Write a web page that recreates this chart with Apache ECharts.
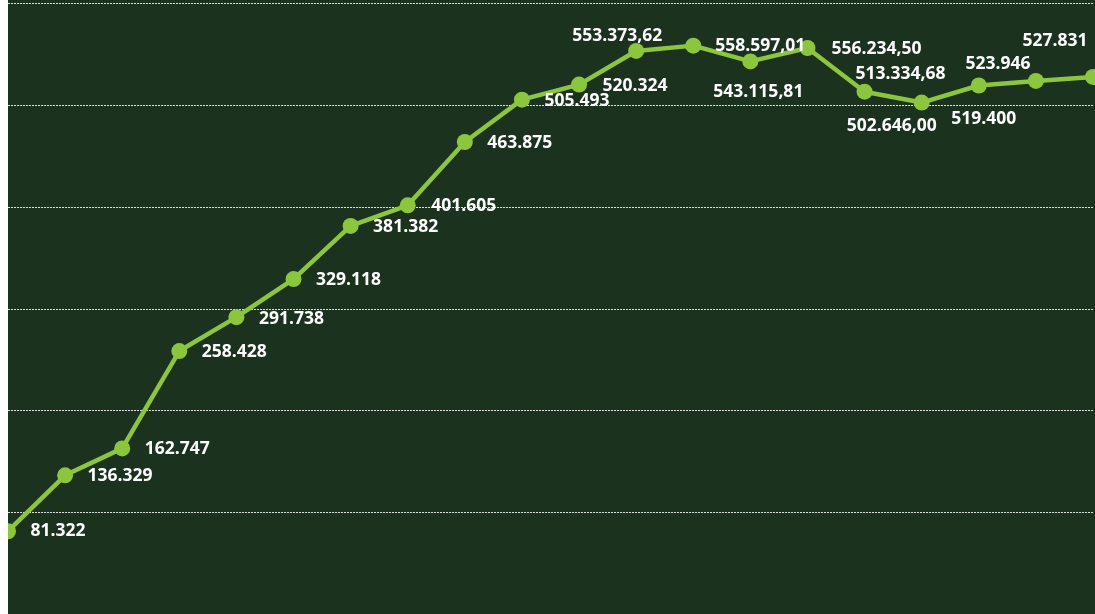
<!DOCTYPE html>
<html>
<head>
<meta charset="utf-8">
<script src="https://cdn.jsdelivr.net/npm/echarts@6/dist/echarts.min.js"></script>
<style>
html,body{margin:0;padding:0;background:#ffffff;width:1095px;height:614px;overflow:hidden;}
#chart{position:absolute;left:8px;top:0;width:1087px;height:614px;}
</style>
</head>
<body>
<div id="chart"></div>
<script>
const categories = ['1','2','3','4','5','6','7','8','9','10','11','12','13','14','15','16','17','18','19','20'];
const values = [81322, 136329, 162747, 258428, 291738, 329118, 381382, 401605, 463875, 505493, 520324,
  553373.62, 558597.01, 543115.81, 556234.50, 513334.68, 502646.00, 519400, 523946, 527831];
const decimals = [0,0,0,0,0,0,0,0,0,0,0,2,2,2,2,2,2,0,0,0];
// label offsets (dx, dy) from point centre
const labelOffsets = [[50,0],[55,1],[55,1],[55,1],[55,2],[55,1],[55,1],[56,1],[55,1],[55,1],[56,1],
  [-19,-15],[67,0],[8,31],[69,1],[36,-18],[-30,23],[5,34],[-38,-17],[-38,-36]];

function fmt(v, d) {
  const fixed = v.toFixed(d);
  const parts = fixed.split('.');
  const intPart = parts[0].replace(/\B(?=(\d{3})+(?!\d))/g, '.');
  return d > 0 ? intPart + ',' + parts[1] : intPart;
}

const chart = echarts.init(document.getElementById('chart'));
chart.setOption({
  backgroundColor: '#1b321e',
  animation: false,
  grid: {left: 0, right: 2, top: 3.5, bottom: -1},
  xAxis: {
    type: 'category', data: categories, boundaryGap: false,
    axisLine: {show: false}, axisTick: {show: false}, axisLabel: {show: false}, splitLine: {show: false}
  },
  yAxis: {
    type: 'value', min: 0, max: 600000, interval: 100000,
    axisLine: {show: false}, axisTick: {show: false}, axisLabel: {show: false},
    splitLine: {show: true, lineStyle: {color: '#e0e0e0', width: 1, type: [2, 1]}}
  },
  series: [{
    type: 'line',
    data: values.map((v, i) => ({
      value: v,
      label: {offset: labelOffsets[i]}
    })),
    symbol: 'circle', symbolSize: 16,
    lineStyle: {color: '#8cc63e', width: 4.5},
    itemStyle: {color: '#8cc63e'},
    label: {
      show: true, position: 'inside', align: 'center', verticalAlign: 'middle',
      color: '#ffffff', fontFamily: 'Open Sans', fontWeight: 'bold', fontSize: 17.5,
      formatter: p => fmt(values[p.dataIndex], decimals[p.dataIndex])
    }
  }]
});
</script>
</body>
</html>
